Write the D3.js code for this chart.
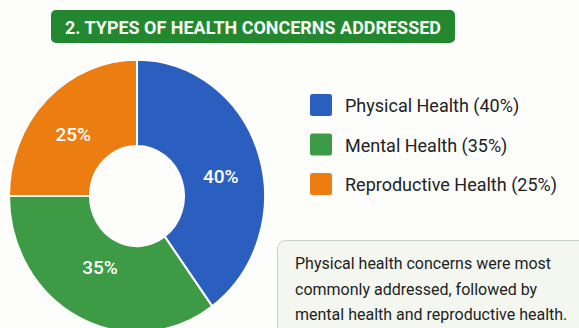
<!DOCTYPE html>
<html>
<head>
<meta charset="utf-8">
<script src="https://cdn.jsdelivr.net/npm/d3@7"></script>
<style>
  html, body { margin: 0; padding: 0; background: #fdfdfc; }
  svg { display: block; }
</style>
</head>
<body>
<div id="chart"></div>
<script>
// data
var categories = ["Physical Health", "Mental Health", "Reproductive Health"];
var shares = [40, 35, 25];
var colors = ["#2b5fbf", "#3d9b45", "#ec7d10"];
var titleText = "2. TYPES OF HEALTH CONCERNS ADDRESSED";
var noteLines = [
  "Physical health concerns were most",
  "commonly addressed, followed by",
  "mental health and reproductive health."
];

var width = 579, height = 328;
var cx = 137, cy = 196, sy = 1.065; // picture is a little taller than wide

var svg = d3.select("#chart")
    .append("svg")
    .attr("width", width)
    .attr("height", height);

// title banner
svg.append("rect")
    .attr("x", 51).attr("y", 10)
    .attr("width", 404).attr("height", 33)
    .attr("rx", 5)
    .style("fill", "#23872f");

svg.append("text")
    .attr("x", 253).attr("y", 33.5)
    .attr("text-anchor", "middle")
    .attr("font-family", "Roboto, 'Open Sans', sans-serif")
    .attr("font-weight", "bold")
    .attr("font-size", 19)
    .attr("textLength", 376)
    .attr("lengthAdjust", "spacingAndGlyphs")
    .style("fill", "#f4faf2")
    .text(titleText);

// donut
var pie = d3.pie().sort(null).value(function(d) { return d; });
var arcs = pie(shares);

var arc = d3.arc().innerRadius(47).outerRadius(128);
var labelArc = d3.arc().innerRadius(86).outerRadius(86);

var donut = svg.append("g")
    .attr("transform", "translate(" + cx + "," + cy + ") scale(1," + sy + ")");

donut.selectAll(".slice")
    .data(arcs)
    .enter().append("path")
    .attr("class", "slice")
    .attr("d", arc)
    .style("fill", function(d, i) { return colors[i]; })
    .style("stroke", "#ffffff")
    .style("stroke-width", 2);

// small hand nudges so labels sit where the original put them (blue, green, orange)
var nudge = [[2, 9], [2, -10], [-3, 3]];
svg.selectAll(".pct")
    .data(arcs)
    .enter().append("text")
    .attr("class", "pct")
    .attr("x", function(d, i) { return cx + labelArc.centroid(d)[0] + nudge[i][0]; })
    .attr("y", function(d, i) { return cy + labelArc.centroid(d)[1] * sy + nudge[i][1]; })
    .attr("dy", "0.35em")
    .attr("text-anchor", "middle")
    .attr("font-family", "Roboto, sans-serif")
    .attr("font-weight", 500)
    .attr("font-size", 19)
    .style("fill", "#ffffff")
    .text(function(d) { return d.data + "%"; });

// legend
var legend = svg.selectAll(".legend")
    .data(categories)
    .enter().append("g")
    .attr("class", "legend")
    .attr("transform", function(d, i) { return "translate(310," + (94 + i * 39.5) + ")"; });

legend.append("rect")
    .attr("width", 22).attr("height", 22)
    .attr("rx", 2.5)
    .style("fill", function(d, i) { return colors[i]; });

legend.append("text")
    .attr("x", 35).attr("y", 18)
    .attr("font-family", "Roboto, sans-serif")
    .attr("font-size", 18)
    .style("fill", "#222222")
    .text(function(d, i) { return d + " (" + shares[i] + "%)"; });

// note box
svg.append("rect")
    .attr("x", 277.5).attr("y", 240.5)
    .attr("width", 320).attr("height", 110)
    .attr("rx", 8)
    .style("fill", "#f3f7ef")
    .style("stroke", "#c9d3c5")
    .style("stroke-width", 1);

svg.selectAll(".note")
    .data(noteLines)
    .enter().append("text")
    .attr("class", "note")
    .attr("x", 295)
    .attr("y", function(d, i) { return 269 + i * 25.5; })
    .attr("font-family", "Roboto, sans-serif")
    .attr("font-size", 16)
    .style("fill", "#1e1e1e")
    .text(function(d) { return d; });
</script>
</body>
</html>
